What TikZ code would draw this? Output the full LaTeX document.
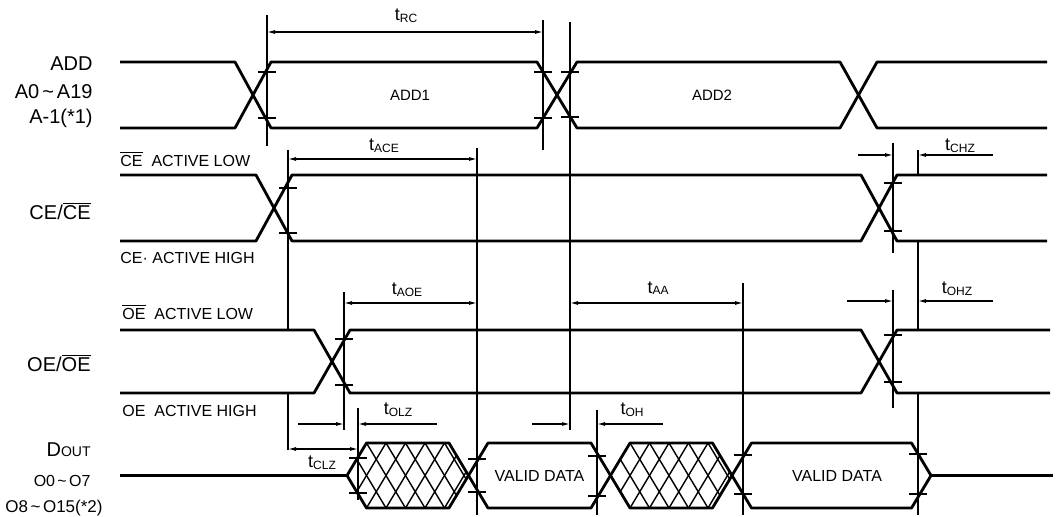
\documentclass[tikz,border=0pt]{standalone}
\usepackage{fontspec}
\setmainfont{Liberation Sans}
\usetikzlibrary{arrows.meta}
\newcommand\tmlabel[1]{t\raisebox{-0.8pt}{\fontsize{6}{7}\selectfont #1}}
\newcommand\tld{\kern0.15em\textasciitilde\kern0.15em}
\newcommand\tickmark[2]{\draw[tickln] (#1-9,#2) -- (#1+9,#2);}
\newcommand\hexpath[2]{(#1,475.5) -- (#1+19.5,443) -- (#2-19.5,443) -- (#2,475.5) -- (#2-19.5,508) -- (#1+19.5,508) -- cycle}
\begin{document}
\begin{tikzpicture}[x=0.5pt,y=-0.5pt,
  sig/.style={line width=1.4pt, line join=round},
  guide/.style={line width=0.7pt},
  tickln/.style={line width=0.7pt},
  hatchln/.style={line width=0.7pt},
  dim/.style={line width=0.6pt, {Latex[length=4pt,width=2pt]}-{Latex[length=4pt,width=2pt]}},
  dimr/.style={line width=0.6pt, -{Latex[length=4pt,width=2pt]}},
  biglbl/.style={inner sep=0pt, font=\fontsize{10}{12}\selectfont},
  small/.style={inner sep=0pt, font=\fontsize{8}{10}\selectfont},
  tlbl/.style={inner sep=0pt, font=\fontsize{9}{11}\selectfont},
]
\useasboundingbox (0,0) rectangle (1058,517);

% ---------- left labels ----------
\node[biglbl, anchor=east] (lADD) at (93,64) {ADD};
\node[biglbl, anchor=east] (lA0) at (93,92) {A0\tld A19};
\node[biglbl, anchor=east] (lA1) at (93,118) {A-1(*1)};
\node[biglbl, anchor=east] (lCE) at (91,211) {CE/$\overline{\mbox{CE}}$};
\node[biglbl, anchor=east] (lOE) at (91,363) {OE/$\overline{\mbox{OE}}$};
\node[biglbl, anchor=east] (lD) at (91,450) {D{\fontsize{7}{8}\selectfont OUT}};
\node[small, anchor=east] (lO0) at (91,481) {O0\tld O7};
\node[small, anchor=east, font=\fontsize{8.5}{10}\selectfont] (lO8) at (103,508) {O8\tld O15(*2)};
\node[small, anchor=west] (lCEL) at (120,159) {$\overline{\mbox{CE}}$\ \ ACTIVE LOW};
\node[small, anchor=west] (lCEH) at (120,258) {CE\textperiodcentered\ ACTIVE HIGH};
\node[small, anchor=west] (lOEL) at (122,312) {$\overline{\mbox{OE}}$\ \ ACTIVE LOW};
\node[small, anchor=west] (lOEH) at (122,411) {OE\ \ ACTIVE HIGH};

% ---------- ADD ----------
\draw[sig] (120,62) -- (235,62) -- (271,128) -- (537,128) -- (577,62) -- (840,62) -- (877,128) -- (1047,128);
\draw[sig] (120,128) -- (235,128) -- (271,62) -- (537,62) -- (577,128) -- (840,128) -- (877,62) -- (1047,62);
\node[small, font=\fontsize{7.5}{9}\selectfont] (add1) at (410,95) {ADD1};
\node[small, font=\fontsize{7.5}{9}\selectfont] (add2) at (712,95) {ADD2};

% ---------- CE ----------
\draw[sig] (120,175) -- (256,175) -- (292,241) -- (861,241) -- (897,175) -- (1047,175);
\draw[sig] (120,241) -- (256,241) -- (292,175) -- (861,175) -- (897,241) -- (1047,241);

% ---------- OE ----------
\draw[sig] (120,330) -- (314,330) -- (350,393) -- (861,393) -- (897,330) -- (1050,330);
\draw[sig] (120,393) -- (314,393) -- (350,330) -- (861,330) -- (897,393) -- (1050,393);

% ---------- DOUT ----------
\foreach \xa/\xb in {347/468.5, 610.5/732}{
  \begin{scope}
    \clip \hexpath{\xa}{\xb};
    \foreach \k in {-4,...,10}{
      \pgfmathsetmacro\ax{\xa+19.5*\k}
      \draw[hatchln] (\ax,443) -- (\ax+39,508);
      \draw[hatchln] (\ax,443) -- (\ax-39,508);
    }
  \end{scope}
}
\draw[sig] (120,475.5) -- (347,475.5);
\draw[sig] \hexpath{347}{468.5};
\draw[sig] \hexpath{468.5}{610.5};
\draw[sig] \hexpath{610.5}{732};
\draw[sig] \hexpath{732}{931};
\draw[sig] (931,475.5) -- (1053,475.5);
\node[small] (vd1) at (539.5,476) {VALID DATA};
\node[small] (vd2) at (837,476) {VALID DATA};

% ---------- guide lines ----------
\draw[guide] (267,15) -- (267,146);
\draw[guide] (543,20) -- (543,150);
\draw[guide] (570,22) -- (570,430);
\draw[guide] (288,150) -- (288,330);
\draw[guide] (288,393) -- (288,450);
\draw[guide] (477,148) -- (477,515);
\draw[guide] (893,143) -- (893,253);
\draw[guide] (893,290) -- (893,408);
\draw[guide] (918,150) -- (918,175);
\draw[guide] (918,241) -- (918,330);
\draw[guide] (918,393) -- (918,515);
\draw[guide] (344,292) -- (344,430);
\draw[guide] (743,283) -- (743,515);
\draw[guide] (358,408) -- (358,500);
\draw[guide] (597,410) -- (597,515);

% ---------- ticks ----------
\tickmark{267}{72} \tickmark{267}{118}
\tickmark{543}{72} \tickmark{543}{118}
\tickmark{570}{72} \tickmark{570}{117}
\tickmark{288}{188} \tickmark{288}{233}
\tickmark{893}{183} \tickmark{893}{231}
\tickmark{344}{339} \tickmark{344}{385}
\tickmark{893}{335} \tickmark{893}{382}
\tickmark{358}{458} \tickmark{358}{493}
\tickmark{477}{459} \tickmark{477}{492}
\tickmark{597}{456} \tickmark{597}{496}
\tickmark{743}{455} \tickmark{743}{494}
\tickmark{918}{454} \tickmark{918}{494}

% ---------- dimensions ----------
\draw[dim] (267,32) -- (543,32);
\draw[dim] (288,159) -- (477,159);
\draw[dim] (344,303) -- (477,303);
\draw[dim] (570,303) -- (743,303);
\draw[dim] (288,449) -- (358,449);
\draw[dimr] (858,155) -- (893,155);
\draw[dimr] (993,155) -- (918,155);
\draw[dimr] (847,301) -- (893,301);
\draw[dimr] (993,301) -- (918,301);
\draw[dimr] (298,424) -- (344,424);
\draw[dimr] (437,424) -- (358,424);
\draw[dimr] (532,424) -- (570,424);
\draw[dimr] (663,424) -- (597,424);

\node[tlbl] (tRC) at (406,16) {\tmlabel{RC}};
\node[tlbl] (tACE) at (384,146) {\tmlabel{ACE}};
\node[tlbl] (tAOE) at (407,290) {\tmlabel{AOE}};
\node[tlbl] (tAA) at (658,288) {\tmlabel{AA}};
\node[tlbl] (tCHZ) at (960,146) {\tmlabel{CHZ}};
\node[tlbl] (tOHZ) at (957,289) {\tmlabel{OHZ}};
\node[tlbl] (tOLZ) at (398,410) {\tmlabel{OLZ}};
\node[tlbl] (tOH) at (632,410) {\tmlabel{OH}};
\node[tlbl] (tCLZ) at (322,463) {\tmlabel{CLZ}};
\end{tikzpicture}
\end{document}
